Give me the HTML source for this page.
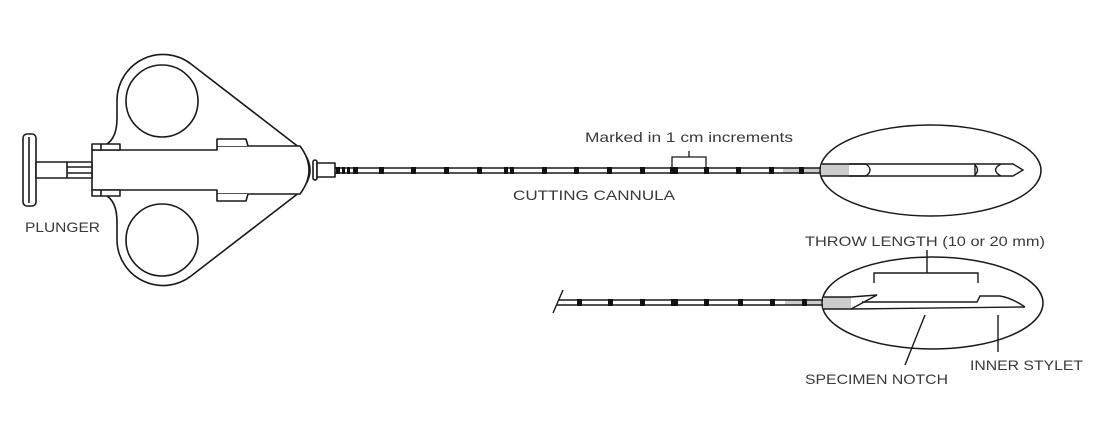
<!DOCTYPE html>
<html><head><meta charset="utf-8"><style>
html,body{margin:0;padding:0;background:#fff;}
svg{display:block;}
text{font-family:"Liberation Sans",sans-serif;fill:#3a3a3a;font-size:14px;}
</style></head><body>
<svg width="1114" height="439" viewBox="0 0 1114 439" xmlns="http://www.w3.org/2000/svg">
<g fill="none" stroke="#1a1a1a" stroke-width="1.6" stroke-linejoin="round">
<!-- handle outline -->
<path d="M99,147 Q117,144 117,118 L117,100 A46,46 0 0 1 191,64 L300,148 Q320,170 300,192 L191,276 A46,46 0 0 1 117,240 L117,222 Q117,196 99,193" fill="#fff"/>
<circle cx="162" cy="101" r="36"/>
<circle cx="162" cy="240" r="36"/>
<!-- body -->
<path d="M92,150 L217,150 L217,146 L300,146 Q318,170 300,194 L217,194 L217,190 L92,190 Z" fill="#fff"/>
<!-- tabs -->
<rect x="92" y="144" width="28" height="6" fill="#fff"/><line x1="101" y1="144" x2="101" y2="150"/>
<rect x="92" y="190" width="28" height="6" fill="#fff"/><line x1="101" y1="190" x2="101" y2="196"/>
<path d="M217,146 L217,139 L246,139 L248,146" fill="#fff"/>
<path d="M217,194 L217,201 L246,201 L248,194" fill="#fff"/>
<!-- plunger -->
<rect x="23" y="134" width="13" height="72" rx="4" fill="#fff"/>
<line x1="29" y1="137" x2="29" y2="203"/>
<rect x="36" y="162" width="56" height="16" fill="#fff"/>
<line x1="67" y1="162" x2="67" y2="178"/>
<line x1="67" y1="167" x2="92" y2="167"/><line x1="67" y1="173" x2="92" y2="173"/>
<!-- nose connector -->
<rect x="313" y="160" width="4" height="20" rx="2" fill="#fff"/>
<rect x="317" y="163" width="18" height="14" fill="#fff"/>
</g>
<!-- top needle -->
<rect x="783" y="168" width="37" height="5" fill="#ccc"/>
<g stroke="#1a1a1a" stroke-width="1.4">
<line x1="335" y1="168" x2="820" y2="168"/><line x1="335" y1="173" x2="820" y2="173"/>
</g>
<g fill="#111">
<rect x="336" y="167" width="4" height="7"/><rect x="342" y="167" width="3" height="7"/><rect x="347" y="167" width="3" height="7"/><rect x="353" y="167" width="5" height="7"/>
<rect x="379" y="167" width="5" height="7"/><rect x="411" y="167" width="5" height="7"/><rect x="444" y="167" width="5" height="7"/><rect x="477" y="167" width="5" height="7"/>
<rect x="504" y="167" width="4" height="7"/><rect x="510" y="167" width="4" height="7"/><rect x="542" y="167" width="5" height="7"/><rect x="574" y="167" width="5" height="7"/>
<rect x="607" y="167" width="5" height="7"/><rect x="640" y="167" width="5" height="7"/><rect x="670" y="167" width="8" height="7"/><rect x="704" y="167" width="5" height="7"/>
<rect x="736" y="167" width="5" height="7"/><rect x="769" y="167" width="5" height="7"/><rect x="799" y="167" width="5" height="7"/>
</g>
<path d="M672,167 L672,157 L706,157 L706,167 M689,157 L689,151" fill="none" stroke="#1a1a1a" stroke-width="1.3"/>
<!-- top ellipse -->
<ellipse cx="930.5" cy="170.5" rx="110.5" ry="45.5" fill="none" stroke="#1a1a1a" stroke-width="1.5"/>
<rect x="821" y="164" width="28" height="12" fill="#ccc"/>
<g fill="none" stroke="#1a1a1a" stroke-width="1.4">
<path d="M821,164 L1013,164 L1023,170 L1013,176 L821,176"/>
<path d="M849,164 L866,164 Q874,170 866,176 L849,176"/>
<path d="M1001,164 Q990,170 1001,176"/>
<line x1="975" y1="164" x2="975" y2="176"/>
<path d="M975,165 Q980,170 975,175"/>
</g>
<!-- bottom needle -->
<line x1="553" y1="313" x2="563" y2="290" stroke="#1a1a1a" stroke-width="1.4"/>
<rect x="785" y="300" width="37" height="5" fill="#ccc"/>
<g stroke="#1a1a1a" stroke-width="1.4">
<line x1="559" y1="300" x2="822" y2="300"/><line x1="557" y1="305" x2="822" y2="305"/>
</g>
<g fill="#111">
<rect x="577" y="299" width="5" height="7"/><rect x="608" y="299" width="5" height="7"/><rect x="640" y="299" width="5" height="7"/><rect x="671" y="299" width="7" height="7"/>
<rect x="704" y="299" width="5" height="7"/><rect x="738" y="299" width="5" height="7"/><rect x="770" y="299" width="5" height="7"/><rect x="802" y="299" width="5" height="7"/>
</g>
<ellipse cx="932.5" cy="303" rx="110.5" ry="46" fill="none" stroke="#1a1a1a" stroke-width="1.5"/>
<rect x="823" y="297" width="28" height="12" fill="#ccc"/>
<g fill="none" stroke="#1a1a1a" stroke-width="1.4">
<path d="M823,297 L851,297 L877,295 L851,309 L823,309"/>
<path d="M851,309 L1025,307"/>
<path d="M862,302 L977,302 L980,296 L1000,296 Q1012,298 1025,307"/>
<path d="M874,283 L874,273 L978,273 L978,283 M927,273 L927,250"/>
<line x1="925" y1="315" x2="905" y2="365"/>
<line x1="998" y1="315" x2="998" y2="352"/>
</g>
<!-- labels -->
<text x="585" y="142" textLength="208" lengthAdjust="spacingAndGlyphs">Marked in 1 cm increments</text>
<text x="513" y="200" textLength="162" lengthAdjust="spacingAndGlyphs">CUTTING CANNULA</text>
<text x="25" y="232" textLength="75" lengthAdjust="spacingAndGlyphs">PLUNGER</text>
<text x="805" y="246" textLength="240" lengthAdjust="spacingAndGlyphs">THROW LENGTH (10 or 20 mm)</text>
<text x="805" y="384" textLength="143" lengthAdjust="spacingAndGlyphs">SPECIMEN NOTCH</text>
<text x="970" y="370" textLength="113" lengthAdjust="spacingAndGlyphs">INNER STYLET</text>
</svg>
</body></html>
